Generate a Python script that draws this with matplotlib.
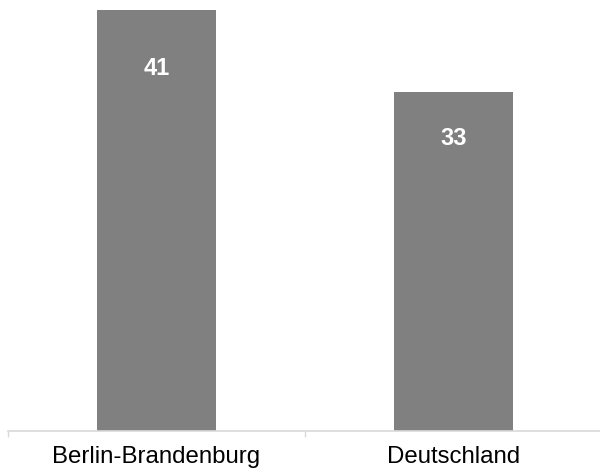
import matplotlib
matplotlib.use('Agg')
import matplotlib.pyplot as plt

plt.rcParams['font.family'] = ['Liberation Sans', 'DejaVu Sans']

CATEGORIES = ['Berlin-Brandenburg', 'Deutschland']
VALUES = [41, 33]

BAR_COLOR = '#808080'
AXIS_COLOR = '#d9d9d9'


def draw_chart(categories: list, values: list) -> plt.Figure:
    """Draws the grey column chart with white value labels inside the bars"""
    fig = plt.figure(figsize=(6.0, 4.73), dpi=100)
    ax = fig.add_axes([8 / 600, 42.3 / 473, 594 / 600, 430.7 / 473])
    positions = range(len(categories))
    ax.bar(positions, values, width=0.4, color=BAR_COLOR)

    for pos, val in zip(positions, values):
        ax.text(pos, val * 0.862, str(val), ha='center', va='center',
                color='white', fontsize=17, fontweight='bold')

    ax.set_xlim(-0.5, len(categories) - 0.5)
    ax.set_ylim(0, 42.0)

    for side in ('top', 'right', 'left'):
        ax.spines[side].set_visible(False)
    ax.spines['bottom'].set_color(AXIS_COLOR)
    ax.spines['bottom'].set_linewidth(1.2)

    ax.set_yticks([])
    ax.set_xticks([p - 0.5 for p in range(len(categories) + 1)])
    ax.set_xticklabels([])
    ax.set_xticks(list(positions), minor=True)
    ax.set_xticklabels(categories, minor=True, fontsize=17.3)
    ax.tick_params(axis='x', which='major', direction='out', length=4.5,
                   width=1, color=AXIS_COLOR)
    ax.tick_params(axis='x', which='minor', length=0, pad=11)
    return fig


if __name__ == "__main__":
    figure = draw_chart(CATEGORIES, VALUES)
    figure.savefig('out.png', dpi=100)
